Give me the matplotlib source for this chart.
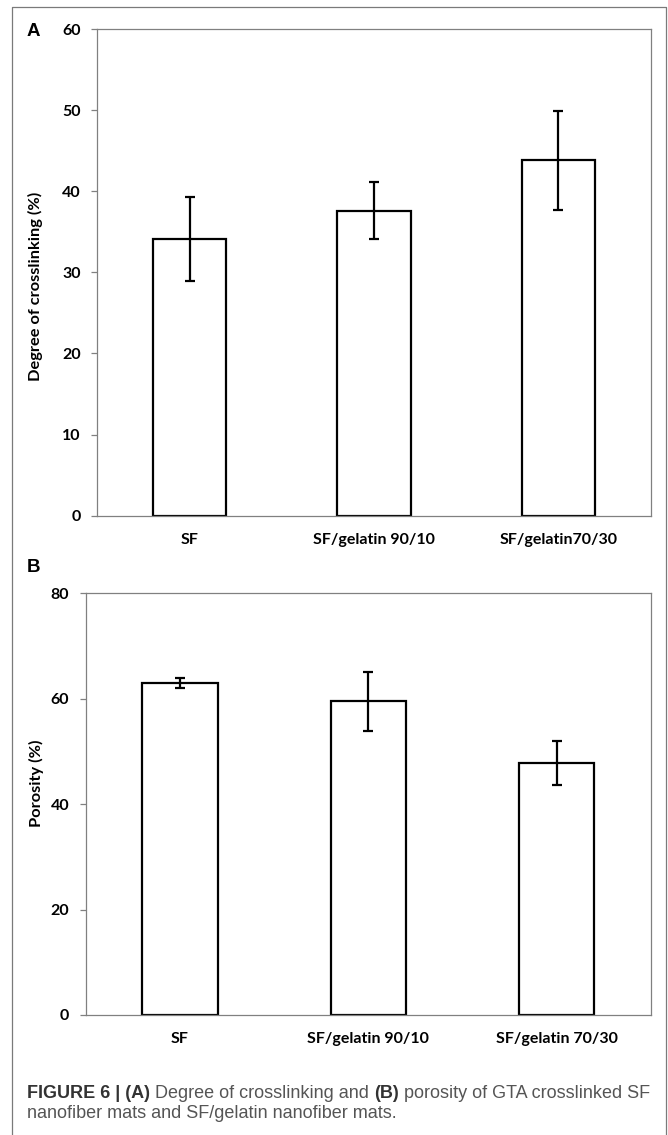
import matplotlib
matplotlib.use("Agg")
import matplotlib.pyplot as plt

# ---- data ----
cats_a = ["SF", "SF/gelatin 90/10", "SF/gelatin70/30"]
crosslink = [34.1, 37.6, 43.8]
crosslink_err = [5.2, 3.5, 6.1]

cats_b = ["SF", "SF/gelatin 90/10", "SF/gelatin 70/30"]
porosity = [63.0, 59.5, 47.8]
porosity_err = [1.0, 5.6, 4.2]

yticks_a = [0, 10, 20, 30, 40, 50, 60]
yticks_b = [0, 20, 40, 60, 80]

W, H = 668, 1135
fig = plt.figure(figsize=(W / 100, H / 100), dpi=100)

TICKFONT = dict(family=["Lato", "DejaVu Sans"], weight="bold", size=11.5)
LABFONT = dict(family=["Lato", "DejaVu Sans"], weight="bold", size=11.8)
SPINE = "#808080"


def panel(rect, cats, vals, errs, yticks, ylabel, lab_xy):
    ax = fig.add_axes(rect)
    x = list(range(len(cats)))
    ax.bar(x, vals, width=0.4, facecolor="white", edgecolor="black",
           linewidth=1.6, zorder=2)
    ax.errorbar(x, vals, yerr=errs, fmt="none", ecolor="black",
                elinewidth=1.6, capsize=3.5, capthick=1.6, zorder=3)
    ax.set_xlim(-0.5, len(cats) - 0.5)
    ax.set_ylim(yticks[0], yticks[-1])
    ax.set_yticks(yticks)
    ax.set_yticklabels([str(t) for t in yticks], **TICKFONT)
    ax.set_xticks(x)
    ax.set_xticklabels(cats, **TICKFONT)
    ax.tick_params(axis="x", length=0, pad=12.5)
    ax.tick_params(axis="y", length=4, width=0.9, color=SPINE, pad=8)
    for s in ax.spines.values():
        s.set_color(SPINE)
        s.set_linewidth(0.9)
    ax.set_ylabel(ylabel, **LABFONT)
    ax.yaxis.set_label_coords(*lab_xy)
    return ax


axA = panel([97.3 / W, 1 - 515.7 / H, (650.7 - 97.3) / W, (515.7 - 29) / H],
            cats_a, crosslink, crosslink_err, yticks_a,
            "Degree of crosslinking (%)", (-0.0987, 0.4705))
axB = panel([85.7 / W, 1 - 1015 / H, (650.7 - 85.7) / W, (1015 - 593.3) / H],
            cats_b, porosity, porosity_err, yticks_b,
            "Porosity (%)", (-0.0738, 0.55))

# panel letters
fig.text(33 / W, 1 - 32 / H, "A", family=["Liberation Sans"], weight="bold",
         size=13.5, ha="center", va="center")
fig.text(33 / W, 1 - 567.7 / H, "B", family=["Liberation Sans"], weight="bold",
         size=13.5, ha="center", va="center")

# outer frame (open at bottom)
fig.add_artist(plt.Line2D([12.3 / W, 12.3 / W, 666 / W, 666 / W],
                          [0, 1 - 6.7 / H, 1 - 6.7 / H, 0],
                          color="#7a7a7a", linewidth=0.9))

# caption with mixed bold/normal
renderer = fig.canvas.get_renderer()
CAP = dict(family=["Liberation Sans", "DejaVu Sans"], size=13)


def measure(s, weight):
    t = fig.text(0, 0, s, weight=weight, **CAP)
    w = t.get_window_extent(renderer).width
    t.remove()
    return w


space_w = measure("a a", "normal") - measure("aa", "normal")


def line(pieces, x0, ybase):
    x = x0
    for s, weight, color in pieces:
        t = fig.text(x / W, 1 - ybase / H, s, weight=weight, color=color,
                     va="baseline", ha="left", **CAP)
        x += t.get_window_extent(renderer).width + space_w


BOLD_C = "#333333"
NORM_C = "#555555"
line([("FIGURE 6 | (A)", "bold", BOLD_C),
      ("Degree of crosslinking and", "normal", NORM_C),
      ("(B)", "bold", BOLD_C),
      ("porosity of GTA crosslinked SF", "normal", NORM_C)], 27, 1097.7)
line([("nanofiber mats and SF/gelatin nanofiber mats.", "normal", NORM_C)],
     27, 1117.7)

fig.savefig("out.png", dpi=100)
